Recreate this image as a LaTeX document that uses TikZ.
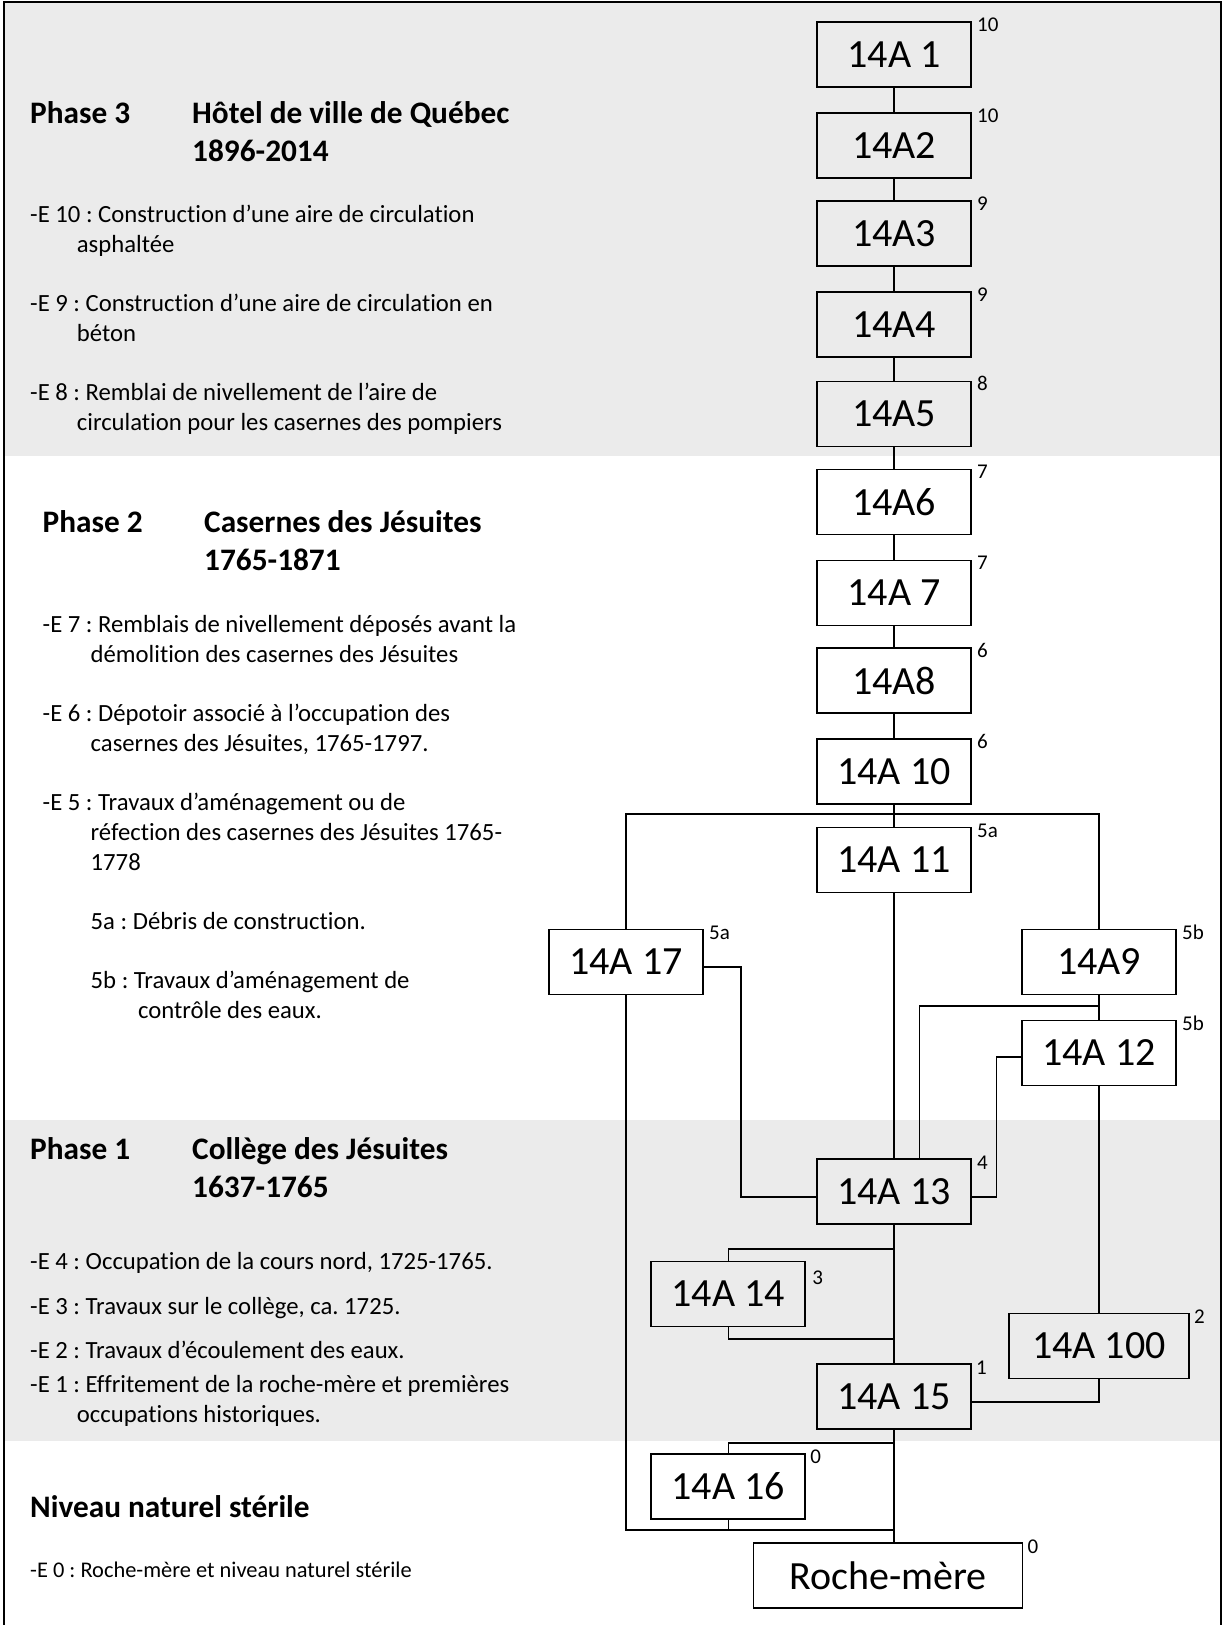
\documentclass[tikz,border=0pt]{standalone}
\usepackage{fontspec}
\setmainfont{Carlito}[Ligatures=NoCommon]
\frenchspacing
\definecolor{bandgray}{RGB}{235,235,235}
\tikzset{
  unit/.style={draw=black, line width=1.9pt, minimum width=154pt, minimum height=65pt, inner sep=0pt, font=\fontsize{40}{44}\selectfont},
  lbl/.style={anchor=base west, inner sep=0pt, font=\fontsize{21}{24}\selectfont},
  conn/.style={line width=1.6pt},
  body/.style={anchor=base west, inner sep=0pt, font=\fontsize{24.7}{28}\selectfont},
  small/.style={anchor=base west, inner sep=0pt, font=\fontsize{22.4}{26}\selectfont},
  head/.style={anchor=base west, inner sep=0pt, font=\bfseries\fontsize{31.3}{36}\selectfont},
}
\begin{document}
\begin{tikzpicture}[x=1pt,y=-1pt]
\useasboundingbox (0,0) rectangle (1224,1625);
% bands
\fill[bandgray] (4,2) rectangle (1221,456);
\fill[bandgray] (4,1120) rectangle (1221,1441);
\draw[line width=2pt] (4,1630) -- (4,2) -- (1221,2) -- (1221,1630);

% units
\node[unit] (b1) at (894,54.5) {14A 1};
\node[unit] (b2) at (894,145.5) {14A2};
\node[unit] (b3) at (894,233.5) {14A3};
\node[unit] (b4) at (894,324.5) {14A4};
\node[unit] (b5) at (894,414) {14A5};
\node[unit] (b6) at (894,502) {14A6};
\node[unit] (b7) at (894,593) {14A 7};
\node[unit] (b8) at (894,680.5) {14A8};
\node[unit] (b10) at (894,771.5) {14A 10};
\node[unit] (b11) at (894,860) {14A 11};
\node[unit] (b17) at (626,962) {14A 17};
\node[unit] (b9) at (1099,962) {14A9};
\node[unit] (b12) at (1099,1053) {14A 12};
\node[unit] (b13) at (894,1191.5) {14A 13};
\node[unit] (b14) at (728.3,1294) {14A 14};
\node[unit, minimum width=180pt] (b100) at (1099,1346) {14A 100};
\node[unit] (b15) at (894,1396.5) {14A 15};
\node[unit] (b16) at (728.3,1486.5) {14A 16};
\node[unit, minimum width=269pt] (roche) at (888,1575.5) {Roche-mère};

% superscript labels
\node[lbl] (l1) at ([xshift=5pt,yshift=-10pt]b1.north east) {10};
\node[lbl] (l2) at ([xshift=5pt,yshift=-10pt]b2.north east) {10};
\node[lbl] (l3) at ([xshift=5pt,yshift=-10pt]b3.north east) {9};
\node[lbl] (l4) at ([xshift=5pt,yshift=-10pt]b4.north east) {9};
\node[lbl] (l5) at ([xshift=5pt,yshift=-10pt]b5.north east) {8};
\node[lbl] (l6) at ([xshift=5pt,yshift=-10pt]b6.north east) {7};
\node[lbl] (l7) at ([xshift=5pt,yshift=-10pt]b7.north east) {7};
\node[lbl] (l8) at ([xshift=5pt,yshift=-10pt]b8.north east) {6};
\node[lbl] (l10) at ([xshift=5pt,yshift=-10pt]b10.north east) {6};
\node[lbl] (l11) at ([xshift=5pt,yshift=-11pt]b11.north east) {5a};
\node[lbl] (l17) at ([xshift=5pt,yshift=-11pt]b17.north east) {5a};
\node[lbl] (l9) at ([xshift=5pt,yshift=-11pt]b9.north east) {5b};
\node[lbl] (l12) at ([xshift=5pt,yshift=-11pt]b12.north east) {5b};
\node[lbl] (l13) at ([xshift=5pt,yshift=-11pt]b13.north east) {4};
\node[lbl] (l14) at ([xshift=6pt,yshift=-24pt]b14.north east) {3};
\node[lbl] (l100) at ([xshift=4pt,yshift=-11pt]b100.north east) {2};
\node[lbl] (l15) at ([xshift=4pt,yshift=-11pt]b15.north east) {1};
\node[lbl] (l16) at ([xshift=4pt,yshift=-10pt]b16.north east) {0};
\node[lbl] (lr) at ([xshift=4pt,yshift=-11pt]roche.north east) {0};

% main column connectors
\draw[conn] (b1) -- (b2);
\draw[conn] (b2) -- (b3);
\draw[conn] (b3) -- (b4);
\draw[conn] (b4) -- (b5);
\draw[conn] (b5) -- (b6);
\draw[conn] (b6) -- (b7);
\draw[conn] (b7) -- (b8);
\draw[conn] (b8) -- (b10);
\draw[conn] (b10) -- (b11);

% branch under 14A 10
\coordinate (br) at (0,813.7);
\draw[conn] (b17.north) -- (b17.north |- br) -- (b9.north |- br) -- (b9.north);

% 14A 11 -> 14A 13
\draw[conn] (b11.south) -- (b11.south |- b13.north);

% 14A 17 -> 14A 13
\coordinate (k17) at (741,1197);
\draw[conn] ([yshift=-5pt]b17.east) -| (k17) -- (k17 -| b13.west);

% 14A9 -> 14A12 and 14A13
\draw[conn] (b9.south) -- (b12.north);
\coordinate (k9) at (919.4,1006);
\draw[conn] (b9.south |- k9) -- (k9) -- (k9 |- b13.north);

% 14A12 -> 14A13, 14A100
\coordinate (k12) at (996.5,1197);
\draw[conn] ([yshift=-4pt]b12.west) -| (k12) -- (k12 -| b13.east);
\draw[conn] (b12.south) -- (b100.north);

% 14A13 -> 14A15 with 14A14
\draw[conn] (b13.south) -- (b15.north);
\coordinate (k14a) at (728.3,1249);
\draw[conn] (b13.south |- k14a) -- (k14a) -- (b14.north);
\coordinate (k14b) at (728.3,1338.7);
\draw[conn] (b14.south) -- (k14b) -- (k14b -| b15.north);

% 14A100 -> 14A15
\coordinate (k100) at (1099,1401.7);
\draw[conn] (b100.south) -- (k100) -- (k100 -| b15.east);

% 14A15 -> Roche-mere with 14A16
\draw[conn] (b15.south) -- (b15.south |- roche.north);
\coordinate (k16a) at (728.3,1442.7);
\draw[conn] (b15.south |- k16a) -- (k16a) -- (b16.north);
\coordinate (k16b) at (728.3,1530);
\coordinate (kbot) at (894,1530);
\draw[conn] (b16.south) -- (k16b);
\draw[conn] (b17.south) -- (b17.south |- kbot) -- (kbot);

% Phase 3 text
\node[head] (p3) at (30,123) {Phase 3};
\node[head] (p3t) at (192,123) {Hôtel de ville de Québec};
\node[head] (p3d) at (192,161) {1896-2014};
\node[body] (e10a) at (30,222.5) {-E 10 : Construction d’une aire de circulation};
\node[body] (e10b) at (76.7,252.5) {asphaltée};
\node[body] (e9a) at (30,311.7) {-E 9 : Construction d’une aire de circulation en};
\node[body] (e9b) at (76.7,341.7) {béton};
\node[body] (e8a) at (30,400.8) {-E 8 : Remblai de nivellement de l’aire de};
\node[body] (e8b) at (76.7,430.9) {circulation pour les casernes des pompiers};

% Phase 2 text
\node[head] (p2) at (42.5,532.3) {Phase 2};
\node[head] (p2t) at (204,532.3) {Casernes des Jésuites};
\node[head] (p2d) at (204,570.7) {1765-1871};
\node[body] (e7a) at (42.5,632) {-E 7 : Remblais de nivellement déposés avant la};
\node[body] (e7b) at (90.5,662) {démolition des casernes des Jésuites};
\node[body] (e6a) at (42.5,721) {-E 6 : Dépotoir associé à l’occupation des};
\node[body] (e6b) at (90.5,751) {casernes des Jésuites, 1765-1797.};
\node[body] (e5a) at (42.5,810) {-E 5 : Travaux d’aménagement ou de};
\node[body] (e5b) at (90.5,840) {réfection des casernes des Jésuites 1765-};
\node[body] (e5c) at (90.5,870) {1778};
\node[body] (e5d) at (90.5,929.4) {5a : Débris de construction.};
\node[body] (e5e) at (90.5,988.4) {5b : Travaux d’aménagement de};
\node[body] (e5f) at (138,1018.5) {contrôle des eaux.};

% Phase 1 text
\node[head] (p1) at (30,1159.4) {Phase 1};
\node[head] (p1t) at (192,1159.4) {Collège des Jésuites};
\node[head] (p1d) at (192,1197.7) {1637-1765};
\node[body] (e4) at (30,1269.3) {-E 4 : Occupation de la cours nord, 1725-1765.};
\node[body] (e3) at (30,1314) {-E 3 : Travaux sur le collège, ca. 1725.};
\node[body] (e2) at (30,1358.4) {-E 2 : Travaux d’écoulement des eaux.};
\node[body] (e1a) at (30,1392.6) {-E 1 : Effritement de la roche-mère et premières};
\node[body] (e1b) at (76.7,1422.7) {occupations historiques.};

% Natural level
\node[head] (p0) at (30,1517) {Niveau naturel stérile};
\node[small] (e0) at (30,1577.5) {-E 0 : Roche-mère et niveau naturel stérile};
\end{tikzpicture}
\end{document}
